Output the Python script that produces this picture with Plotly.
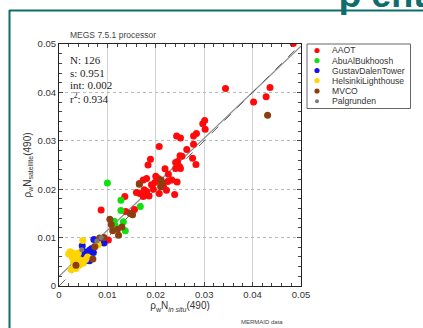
import plotly.graph_objects as go

# ---------------- data ----------------
aaot_x = [0.0484, 0.0344, 0.0402, 0.0428, 0.0436, 0.0301, 0.0297, 0.0302, 0.0284, 0.0278,
          0.0278, 0.0276, 0.0283, 0.0243, 0.0251, 0.0207, 0.0264, 0.0250, 0.0254, 0.0245,
          0.0241, 0.0249, 0.0241, 0.0251, 0.0189, 0.0184, 0.0219, 0.0226, 0.0233, 0.0244,
          0.0200, 0.0205, 0.0181, 0.0174, 0.0166, 0.0160, 0.0167, 0.0181, 0.0174, 0.0186,
          0.0191, 0.0216, 0.0222, 0.0207, 0.0239, 0.0225, 0.0212, 0.0198, 0.0136, 0.0138,
          0.0156, 0.0150, 0.0087, 0.0102, 0.0176, 0.0195]
aaot_y = [0.0501, 0.0408, 0.0380, 0.0391, 0.0410, 0.0342, 0.0335, 0.0324, 0.0315, 0.0310,
          0.0293, 0.0264, 0.0251, 0.0310, 0.0306, 0.0288, 0.0282, 0.0269, 0.0268, 0.0257,
          0.0255, 0.0247, 0.0243, 0.0243, 0.0262, 0.0250, 0.0242, 0.0231, 0.0219, 0.0215,
          0.0227, 0.0222, 0.0222, 0.0219, 0.0212, 0.0193, 0.0191, 0.0195, 0.0185, 0.0186,
          0.0209, 0.0205, 0.0198, 0.0191, 0.0189, 0.0216, 0.0212, 0.0214, 0.0185, 0.0154,
          0.0158, 0.0150, 0.0157, 0.0095, 0.0199, 0.0200]

abu_x = [0.0100, 0.0128, 0.0128, 0.0168, 0.0114, 0.0116, 0.0133, 0.0137, 0.0113]
abu_y = [0.0213, 0.0177, 0.0156, 0.0164, 0.0134, 0.0125, 0.0133, 0.0114, 0.0128]

gustav_x = [0.0072, 0.0093, 0.0048, 0.0063, 0.0067, 0.0052, 0.0057, 0.0045, 0.0054, 0.0063,
            0.0047, 0.0071, 0.0058, 0.0050, 0.0060]
gustav_y = [0.0096, 0.0089, 0.0083, 0.0074, 0.0077, 0.0071, 0.0066, 0.0057, 0.0052, 0.0052,
            0.0065, 0.0069, 0.0060, 0.0062, 0.0070]

helsinki_x = [0.0049, 0.0023, 0.0020, 0.0028, 0.0033, 0.0037, 0.0043, 0.0042, 0.0025, 0.0036,
              0.0059, 0.0081, 0.0050, 0.0030, 0.0040, 0.0055, 0.0027, 0.0035]
helsinki_y = [0.0094, 0.0071, 0.0066, 0.0068, 0.0057, 0.0061, 0.0054, 0.0043, 0.0034, 0.0040,
              0.0060, 0.0085, 0.0047, 0.0050, 0.0068, 0.0055, 0.0060, 0.0036]

mvco_x = [0.0431, 0.0166, 0.0211, 0.0213, 0.0210, 0.0105, 0.0111, 0.0121, 0.0123, 0.0130,
          0.0147, 0.0152, 0.0084, 0.0074, 0.0070, 0.0035, 0.0093, 0.0108]
mvco_y = [0.0353, 0.0210, 0.0219, 0.0213, 0.0205, 0.0138, 0.0114, 0.0117, 0.0105, 0.0122,
          0.0150, 0.0147, 0.0099, 0.0081, 0.0056, 0.0043, 0.0100, 0.0127]

palg_x = [0.0078, 0.0047, 0.0087]
palg_y = [0.0093, 0.0075, 0.0100]

site_names = ["AAOT", "AbuAlBukhoosh", "GustavDalenTower", "HelsinkiLighthouse", "MVCO", "Palgrunden"]
site_colors = ["#ff0a0a", "#10e010", "#1414e6", "#ffd400", "#8b3f10", "#7a7a7a"]

fit_slope = 0.951
fit_int = 0.002
line_x = [0.0, 0.05]
stats_lines = ["N: 126", "s: 0.951", "int: 0.002", "r<sup>2</sup>: 0.934"]

# ---------------- figure ----------------
fig = go.Figure()

fig.add_trace(go.Scatter(x=line_x, y=[fit_slope * v + fit_int for v in line_x], mode="lines",
                         line=dict(color="#8c8c8c", width=1.3), showlegend=False, hoverinfo="skip"))
fig.add_trace(go.Scatter(x=line_x, y=line_x, mode="lines",
                         line=dict(color="#666666", width=1.0, dash="dash"), showlegend=False, hoverinfo="skip"))

series = [(aaot_x, aaot_y), (abu_x, abu_y), (gustav_x, gustav_y),
          (helsinki_x, helsinki_y), (mvco_x, mvco_y), (palg_x, palg_y)]
for (sx, sy), name, col in zip(series, site_names, site_colors):
    fig.add_trace(go.Scatter(x=sx, y=sy, mode="markers", name=name,
                             marker=dict(color=col, size=7 if name != "Palgrunden" else 5, line=dict(width=0)),
                             showlegend=False))

tickfont = dict(family="Liberation Sans, Arial, sans-serif", size=9.5, color="#333333")
axis_common = dict(range=[0, 0.05], dtick=0.01, ticks="inside", ticklen=4, tickcolor="#444",
                   showline=True, linecolor="#222", linewidth=1, mirror="ticks",
                   tickfont=tickfont, zeroline=False,
                   minor=dict(dtick=0.002, ticks="inside", ticklen=3, tickcolor="#444", showgrid=False))

fig.update_xaxes(**axis_common, showgrid=True, gridcolor="#d2d2d2", gridwidth=1,
                 title=dict(text="ρ<sub>w</sub>N<sub><i>in situ</i></sub>(490)", standoff=2,
                            font=dict(family="Liberation Sans, Arial, sans-serif", size=10, color="#333")))
fig.update_yaxes(**axis_common, showgrid=True, gridcolor="#b8b8b8", gridwidth=1, griddash="dot",
                 title=dict(text="ρ<sub>w</sub>N<sub>satellite</sub>(490)", standoff=4,
                            font=dict(family="Liberation Sans, Arial, sans-serif", size=10, color="#333")))

W, H = 423, 328
L, R, T, B = 59, 122, 44, 42
pw, ph = W - L - R, H - T - B

def px(xp):
    return (xp - L) / pw

def py(yp):
    return (H - B - yp) / ph

shapes = []
annotations = []
teal = "#0e6d6d"
# slide frame
shapes.append(dict(type="line", xref="paper", yref="paper", x0=px(9.5), x1=px(9.5), y0=py(10), y1=py(340),
                   line=dict(color=teal, width=2)))
shapes.append(dict(type="line", xref="paper", yref="paper", x0=px(9), x1=px(430), y0=py(10.5), y1=py(10.5),
                   line=dict(color=teal, width=2)))
annotations.append(dict(xref="paper", yref="paper", x=px(337), y=py(17), xanchor="left", yanchor="bottom",
                        text="<b>ρ ent</b>", showarrow=False,
                        font=dict(family="Liberation Sans, Arial, sans-serif", size=36, color=teal)))

# legend box
shapes.append(dict(type="rect", xref="paper", yref="paper", x0=px(307), x1=px(410.5), y0=py(44), y1=py(108.5),
                   line=dict(color="#666", width=1), fillcolor="white"))
row_y = [50.5, 60.5, 70.5, 80.5, 91, 101.3]
for name, col, ry in zip(site_names, site_colors, row_y):
    r = 2.6 if name != "Palgrunden" else 2.0
    shapes.append(dict(type="circle", xref="paper", yref="paper", x0=px(317 - r), x1=px(317 + r),
                       y0=py(ry + r), y1=py(ry - r), line=dict(width=0), fillcolor=col))
    annotations.append(dict(xref="paper", yref="paper", x=px(329.5), y=py(ry), xanchor="left", yanchor="middle",
                            text=name, showarrow=False,
                            font=dict(family="Liberation Sans, Arial, sans-serif", size=8.6, color="#333")))

# stats text
for i, s in enumerate(stats_lines):
    annotations.append(dict(xref="paper", yref="paper", x=px(68), y=py(60 + 12.7 * i), xanchor="left",
                            yanchor="middle", text=s, showarrow=False,
                            font=dict(family="Liberation Serif, Times New Roman, serif", size=11, color="#222")))

# title
annotations.append(dict(xref="paper", yref="paper", x=px(68), y=py(34.5), xanchor="left", yanchor="middle",
                        text="MEGS 7.5.1 processor", showarrow=False,
                        font=dict(family="Liberation Sans, Arial, sans-serif", size=8.5, color="#444")))
# footer
annotations.append(dict(xref="paper", yref="paper", x=px(262), y=py(322), xanchor="center", yanchor="middle",
                        text="MERMAID data", showarrow=False,
                        font=dict(family="Liberation Sans, Arial, sans-serif", size=6, color="#444")))

fig.update_layout(width=W, height=H, margin=dict(l=L, r=R, t=T, b=B, autoexpand=False),
                  paper_bgcolor="white", plot_bgcolor="white", showlegend=False,
                  shapes=shapes, annotations=annotations)

fig.write_html("out.html", config={"displayModeBar": False},
               post_script="document.body.style.margin='0px';document.body.style.overflow='hidden';")
